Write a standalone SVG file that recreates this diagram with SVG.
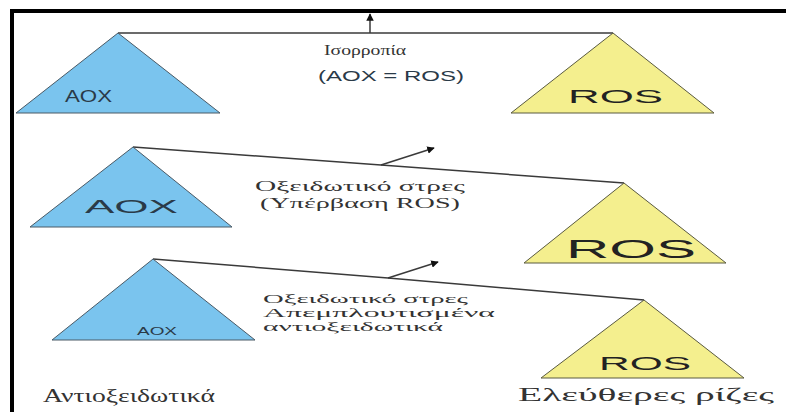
<svg xmlns="http://www.w3.org/2000/svg" width="786" height="412" viewBox="0 0 786 412">
<defs>
<style>
.aox{fill:#7ac4ee;stroke:#4a5a66;stroke-width:1}
.ros{fill:#f4ef8e;stroke:#5a5a40;stroke-width:1}
.lever{fill:none;stroke:#3a3a3a;stroke-width:1.5}
.lbl{font-family:"Liberation Sans",Arial,sans-serif;fill:#2a3a48}
.rlbl{font-family:"Liberation Sans",Arial,sans-serif;fill:#222}
.gr{font-family:"Liberation Serif","Times New Roman",serif;fill:#333;font-size:14px}
.gr3{font-family:"Liberation Serif","Times New Roman",serif;fill:#333;font-size:12px}
.cap{font-family:"Liberation Serif","Times New Roman",serif;fill:#333;font-size:18px}
</style>
<marker id="ah" viewBox="0 0 10 10" refX="9" refY="5" markerWidth="5" markerHeight="5" orient="auto-start-reverse" markerUnits="strokeWidth">
<path d="M0,0 L10,5 L0,10 z" fill="#111"/>
</marker>
</defs>
<rect width="786" height="412" fill="#ffffff"/>
<g id="frame">
<rect x="10" y="9" width="776" height="4" fill="#000"/>
<rect x="10" y="9" width="4" height="403" fill="#000"/>
</g>
<g id="connectors">
<line class="lever" x1="118" y1="33" x2="613" y2="33"/>
<line class="lever" x1="370" y1="33" x2="370" y2="14" stroke="#111" stroke-width="2.2" marker-end="url(#ah)"/>
<polyline class="lever" points="133,147 381,165 624,183"/>
<line class="lever" x1="381" y1="165" x2="434" y2="148" marker-end="url(#ah)"/>
<polyline class="lever" points="153,259 388,278 644,300"/>
<line class="lever" x1="388" y1="278" x2="438" y2="262" marker-end="url(#ah)"/>
</g>
<g id="aox1">
<polygon class="aox" points="118,33 16,113 220,113"/>
<text class="lbl" x="65" y="102" font-size="16" textLength="47" lengthAdjust="spacingAndGlyphs">AOX</text>
</g>
<g id="ros1">
<polygon class="ros" points="613,33 511,113 714,113"/>
<text class="rlbl" x="568" y="103" font-size="18" textLength="95" lengthAdjust="spacingAndGlyphs">ROS</text>
</g>
<g id="label1">
<text class="gr" x="324" y="55" textLength="82" lengthAdjust="spacingAndGlyphs">Ισορροπία</text>
<text class="lbl" x="318" y="81" font-size="14" fill="#333" textLength="146" lengthAdjust="spacingAndGlyphs">(AOX = ROS)</text>
</g>
<g id="aox2">
<polygon class="aox" points="133,147 30,227 232,227"/>
<text class="lbl" x="85" y="213" font-size="18" textLength="93" lengthAdjust="spacingAndGlyphs">AOX</text>
</g>
<g id="ros2">
<polygon class="ros" points="624,183 524,263 726,263"/>
<text class="rlbl" x="566" y="258" font-size="25" fill="#111" textLength="130" lengthAdjust="spacingAndGlyphs">ROS</text>
</g>
<g id="label2">
<text class="gr" x="255" y="191" textLength="210" lengthAdjust="spacingAndGlyphs">Οξειδωτικό στρες</text>
<text class="gr" x="260" y="208" textLength="200" lengthAdjust="spacingAndGlyphs">(Υπέρβαση ROS)</text>
</g>
<g id="aox3">
<polygon class="aox" points="153,259 52,340 255,340"/>
<text class="lbl" x="137" y="335" font-size="10" textLength="40" lengthAdjust="spacingAndGlyphs">AOX</text>
</g>
<g id="ros3">
<polygon class="ros" points="644,300 541,378 744,378"/>
<text class="rlbl" x="599" y="370" font-size="18" textLength="92" lengthAdjust="spacingAndGlyphs">ROS</text>
</g>
<g id="label3">
<text class="gr3" x="263" y="303" textLength="205" lengthAdjust="spacingAndGlyphs">Οξειδωτικό στρες</text>
<text class="gr3" x="263" y="317" textLength="232" lengthAdjust="spacingAndGlyphs">Απεμπλουτισμένα</text>
<text class="gr3" x="263" y="331" textLength="180" lengthAdjust="spacingAndGlyphs">αντιοξειδωτικά</text>
</g>
<g id="captions">
<text class="cap" x="43" y="402" textLength="172" lengthAdjust="spacingAndGlyphs">Αντιοξειδωτικά</text>
<text class="cap" x="518" y="401" textLength="256" lengthAdjust="spacingAndGlyphs">Ελεύθερες ρίζες</text>
</g>
</svg>
